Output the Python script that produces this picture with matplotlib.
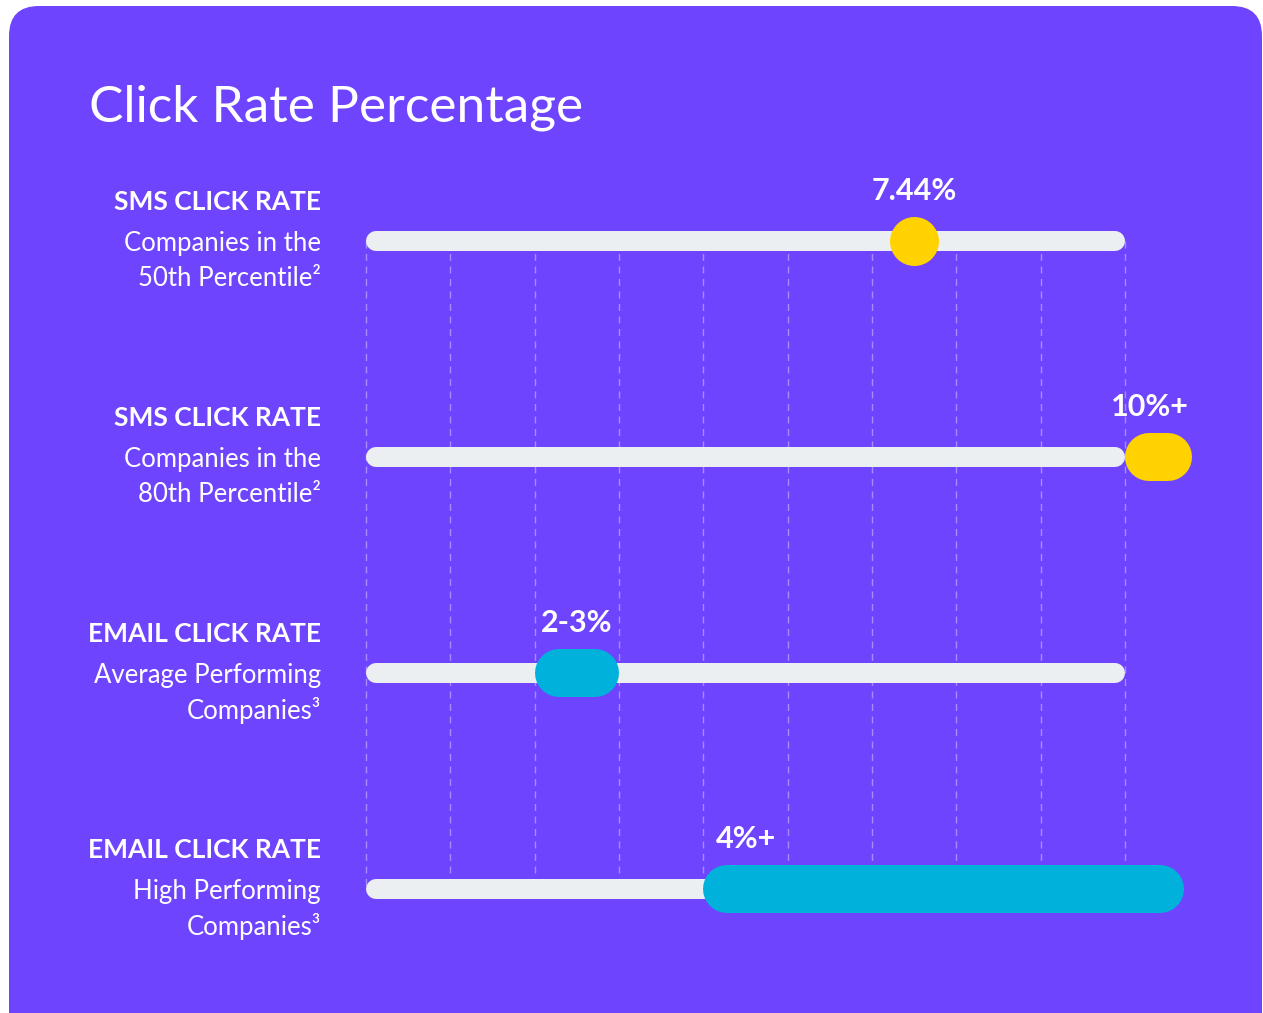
import matplotlib.pyplot as plt
import numpy as np
from matplotlib.patches import FancyBboxPatch

plt.rcParams['font.family'] = ['Lato', 'DejaVu Sans']

# data
titles = ['SMS CLICK RATE', 'SMS CLICK RATE', 'EMAIL CLICK RATE', 'EMAIL CLICK RATE']
line1 = ['Companies in the', 'Companies in the', 'Average Performing', 'High Performing']
line2 = ['50th Percentile²', '80th Percentile²', 'Companies³', 'Companies³']
value_labels = ['7.44%', '10%+', '2-3%', '4%+']
mark_start = [6.5, 9.0, 2.0, 4.0]
mark_end = [6.5, 9.8, 3.0, 9.7]
label_pos = [6.5, 9.3, 2.5, 4.5]
mark_colors = ['#FFD200', '#FFD200', '#00B2DB', '#00B2DB']
track_max = 9
grid_ticks = np.arange(0, 10)

PURPLE = '#6E44FF'
TRACK = '#ECEFF2'

W, H = 1263, 1013
fig = plt.figure(figsize=(W / 100, H / 100), dpi=100)
fig.patch.set_facecolor('white')

# background card, pixel coordinates
bg = fig.add_axes([0, 0, 1, 1])
bg.set_xlim(0, W)
bg.set_ylim(H, 0)
bg.axis('off')
bg.add_patch(FancyBboxPatch((9, 6), 1253, 1040, boxstyle='round,pad=0,rounding_size=30',
                            fc=PURPLE, ec='none'))
bg.text(89, 108, 'Click Rate Percentage', color='white', fontsize=37, va='center', ha='left')

# main axes: x in chart units, y in pixels
x0, unit = 366, (1125 - 366) / 9
ax = fig.add_axes([0, 0, 1, 1])
ax.patch.set_alpha(0)
ax.set_xlim(-x0 / unit, (W - x0) / unit)
ax.set_ylim(H, 0)
ax.axis('off')

row_y = 241 + 216 * np.arange(len(titles))

ax.vlines(grid_ticks, row_y[0], row_y[-1], colors='#A58CFF', linewidth=1,
          linestyles=(0, (5, 4)), zorder=1)

track_lw = 20 * 0.72
pill_lw = 48 * 0.72
r_track = 10 / unit
r_pill = 24 / unit

for i, y in enumerate(row_y):
    ax.plot([0 + r_track, track_max - r_track], [y, y], color=TRACK, lw=track_lw,
            solid_capstyle='round', zorder=2)
    if mark_start[i] == mark_end[i]:
        ax.scatter([mark_start[i]], [y], s=(pill_lw * 1.02) ** 2, color=mark_colors[i],
                   zorder=3, linewidths=0)
    else:
        ax.plot([mark_start[i] + r_pill, mark_end[i] - r_pill], [y, y], color=mark_colors[i],
                lw=pill_lw, solid_capstyle='round', zorder=3)
    ax.text(label_pos[i], y - 50, value_labels[i], color='white', fontsize=22,
            fontweight='bold', ha='center', va='center', zorder=4)

    lx = (321 - x0) / unit
    ax.text(lx, y - 39, titles[i], color='white', fontsize=19, fontweight='bold',
            ha='right', va='center')
    ax.text(lx, y + 2, line1[i], color='white', fontsize=18.5, ha='right', va='center')
    ax.text(lx, y + 37, line2[i], color='white', fontsize=18.5, ha='right', va='center')

fig.savefig('out.png', dpi=100, facecolor='white')
